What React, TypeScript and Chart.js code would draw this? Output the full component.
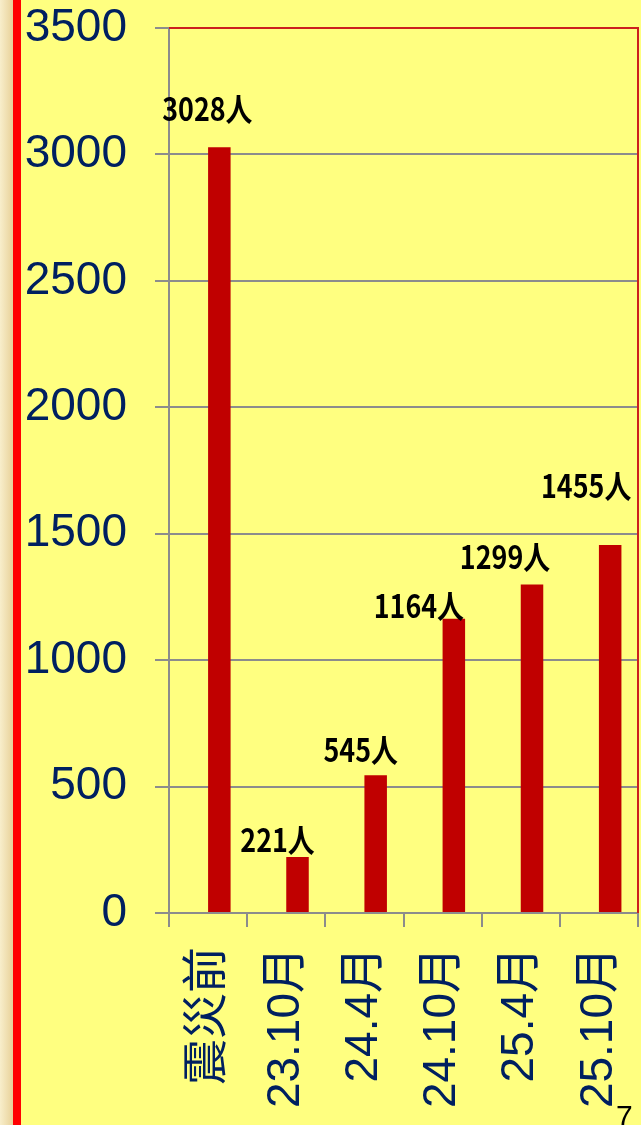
import React, { useEffect, useRef } from "react";
import { Chart, registerables } from "chart.js";

Chart.register(...registerables);

const categories = ["震災前", "23.10月", "24.4月", "24.10月", "25.4月", "25.10月"];
const visitorCounts = [3028, 221, 545, 1164, 1299, 1455];
const spacerValues = [null, null, null, null, null, null];
const valueLabels = ["3028人", "221人", "545人", "1164人", "1299人", "1455人"];
const yMin = 0;
const yMax = 3500;
const yStep = 500;

// placement of the hand-positioned value labels relative to each bar top/centre
const labelShiftX = [-12, -20, -15, -35, -27, -24];
const labelShiftY = [-26, -5, -13, -1, -16, -47];

const NAVY = "#002060";
const GRID = "#8c8c8c";

const valueLabelPlugin = {
  id: "valueLabelPlugin",
  afterDatasetsDraw(chart: any) {
    const ctx = chart.ctx;
    const meta = chart.getDatasetMeta(1);
    ctx.save();
    ctx.font = 'bold 32px "Noto Sans CJK JP", sans-serif';
    ctx.fillStyle = "#000000";
    ctx.textAlign = "center";
    ctx.textBaseline = "alphabetic";
    meta.data.forEach((bar: any, i: number) => {
      const x = bar.x + labelShiftX[i];
      const y = bar.y + labelShiftY[i];
      ctx.save();
      ctx.translate(x, y);
      ctx.scale(0.84, 1);
      ctx.fillText(valueLabels[i], 0, 0);
      ctx.restore();
    });
    const { left, top, right, bottom } = chart.chartArea;
    ctx.strokeStyle = "#cc1f1f";
    ctx.lineWidth = 2;
    ctx.beginPath();
    ctx.moveTo(left, top);
    ctx.lineTo(right, top);
    ctx.lineTo(right, bottom);
    ctx.stroke();
    ctx.restore();
  },
};

export default function App() {
  const canvasRef = useRef<HTMLCanvasElement | null>(null);

  useEffect(() => {
    document.body.style.margin = "0";
    const canvas = canvasRef.current;
    if (!canvas) return;
    const chart = new Chart(canvas, {
      type: "bar",
      data: {
        labels: categories,
        datasets: [
          {
            label: "spacer",
            data: spacerValues as any,
            backgroundColor: "rgba(0,0,0,0)",
          },
          {
            label: "人数",
            data: visitorCounts,
            backgroundColor: "#C00000",
            borderWidth: 0,
          },
        ],
      },
      options: {
        responsive: false,
        animation: false,
        categoryPercentage: 0.576,
        barPercentage: 1,
        layout: { padding: { top: 28, right: 3, left: 0, bottom: 0 } },
        plugins: {
          legend: { display: false },
          tooltip: { enabled: false },
        },
        scales: {
          x: {
            offset: true,
            grid: {
              display: true,
              drawOnChartArea: false,
              drawTicks: true,
              tickLength: 14,
              color: GRID,
              lineWidth: 2,
              offset: true,
            },
            border: { display: true, color: GRID, width: 2 },
            ticks: {
              autoSkip: false,
              minRotation: 90,
              maxRotation: 90,
              padding: 20,
              color: NAVY,
              font: { family: "'Liberation Sans', 'Noto Sans CJK JP', sans-serif", size: 46 },
            },
            afterFit(scale: any) {
              scale.height = 212;
              scale.paddingLeft = 0;
              scale.paddingRight = 0;
            },
          },
          y: {
            min: yMin,
            max: yMax,
            grid: {
              color: GRID,
              lineWidth: 2,
              drawTicks: true,
              tickLength: 14,
            },
            border: { display: true, color: GRID, width: 2 },
            ticks: {
              stepSize: yStep,
              padding: 28,
              color: NAVY,
              font: { family: "'Liberation Sans', Arial, sans-serif", size: 46 },
              callback: (v: any) => String(v),
            },
            afterFit(scale: any) {
              scale.width = 169;
              scale.paddingTop = 0;
              scale.paddingBottom = 0;
            },
          },
        },
      },
      plugins: [valueLabelPlugin],
    });
    return () => chart.destroy();
  }, []);

  return (
    <div
      style={{
        position: "absolute",
        left: 0,
        top: 0,
        width: 641,
        height: 1125,
        background: "#FFFF80",
        overflow: "hidden",
      }}
    >
      <div
        style={{
          position: "absolute",
          left: 0,
          top: 0,
          width: 13,
          height: 1125,
          background: "linear-gradient(to right, #f8eecb, #e8d199)",
        }}
      />
      <div
        style={{
          position: "absolute",
          left: 13,
          top: 0,
          width: 8,
          height: 1125,
          background: "#ff0000",
        }}
      />
      <canvas
        ref={canvasRef}
        width={641}
        height={1125}
        style={{ position: "absolute", left: 0, top: 0, width: 641, height: 1125 }}
      />
      <div
        style={{
          position: "absolute",
          left: 616,
          top: 1101,
          fontFamily: "'Liberation Sans', Arial, sans-serif",
          fontSize: 30,
          lineHeight: 1,
          color: "#000",
        }}
      >
        7
      </div>
    </div>
  );
}
